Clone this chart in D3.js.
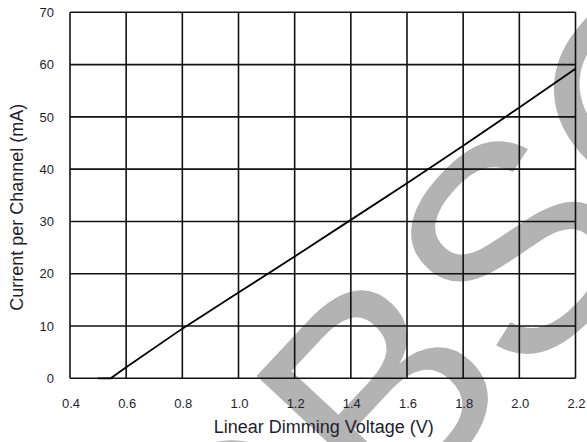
<!DOCTYPE html>
<html>
<head>
<meta charset="utf-8">
<script src="https://cdn.jsdelivr.net/npm/d3@7"></script>
<style>
  html, body { margin: 0; padding: 0; background: #fff; }
  svg { display: block; }
</style>
</head>
<body>
<svg id="chart" width="587" height="442"></svg>
<script>
// ---- data ----
const voltage = [0.50, 0.545, 0.6, 0.8, 1.0, 1.2, 1.4, 1.6, 1.8, 2.0, 2.2];
const current = [0, 0, 2.1, 9.5, 16.4, 23.3, 30.3, 37.3, 44.5, 51.8, 59.2];
const xTicks = [0.4, 0.6, 0.8, 1.0, 1.2, 1.4, 1.6, 1.8, 2.0, 2.2];
const yTicks = [0, 10, 20, 30, 40, 50, 60, 70];
const xLabel = "Linear Dimming Voltage (V)";
const yLabel = "Current per Channel (mA)";
const watermark = "OBSOLETE";

(function () {
const svg = d3.select("#chart");
const pL = 70, pR = 575.5, pT = 12.3, pB = 378.3;

const x = d3.scaleLinear().domain([0.4, 2.2]).range([pL, pR]);
const y = d3.scaleLinear().domain([0, 70]).range([pB, pT]);

// watermark (behind chart)
svg.append("text")
  .attr("transform", "translate(232,700) rotate(-47)")
  .attr("font-family", "Liberation Sans, Arial, sans-serif")
  .attr("font-size", 295)
  .attr("fill", "#b3b3b3")
  .text(watermark);

// grid
const g = svg.append("g");
g.selectAll("line.vx").data(xTicks).enter().append("line")
  .attr("x1", d => x(d)).attr("x2", d => x(d))
  .attr("y1", pT).attr("y2", pB)
  .attr("stroke", "#111").attr("stroke-width", 1.6);
g.selectAll("line.hy").data(yTicks).enter().append("line")
  .attr("y1", d => y(d)).attr("y2", d => y(d))
  .attr("x1", pL).attr("x2", pR)
  .attr("stroke", "#111").attr("stroke-width", 1.6);

// tick labels
const textColor = "#1e1e2e";
svg.selectAll("text.xt").data(xTicks).enter().append("text")
  .attr("x", d => x(d) + 1).attr("y", 408)
  .attr("text-anchor", "middle")
  .attr("font-family", "Liberation Sans, Arial, sans-serif")
  .attr("font-size", 13).attr("fill", textColor)
  .text(d => d.toFixed(1));
svg.selectAll("text.yt").data(yTicks).enter().append("text")
  .attr("x", 54).attr("y", d => y(d)).attr("dy", "0.36em")
  .attr("text-anchor", "end")
  .attr("font-family", "Liberation Sans, Arial, sans-serif")
  .attr("font-size", 13).attr("fill", textColor)
  .text(d => d);

// axis titles
svg.append("text")
  .attr("x", (pL + pR) / 2 + 1).attr("y", 433)
  .attr("text-anchor", "middle")
  .attr("font-family", "Liberation Sans, Arial, sans-serif")
  .attr("font-size", 18).attr("fill", textColor)
  .text(xLabel);
svg.append("text")
  .attr("transform", `translate(23,${(pT + pB) / 2 + 12}) rotate(-90)`)
  .attr("text-anchor", "middle")
  .attr("font-family", "Liberation Sans, Arial, sans-serif")
  .attr("font-size", 18).attr("fill", textColor)
  .text(yLabel);

// data line
const line = d3.line().x((d, i) => x(voltage[i])).y(d => y(d));
svg.append("path")
  .datum(current)
  .attr("d", line)
  .attr("fill", "none")
  .attr("stroke", "#000")
  .attr("stroke-width", 1.8);
})();
</script>
</body>
</html>
